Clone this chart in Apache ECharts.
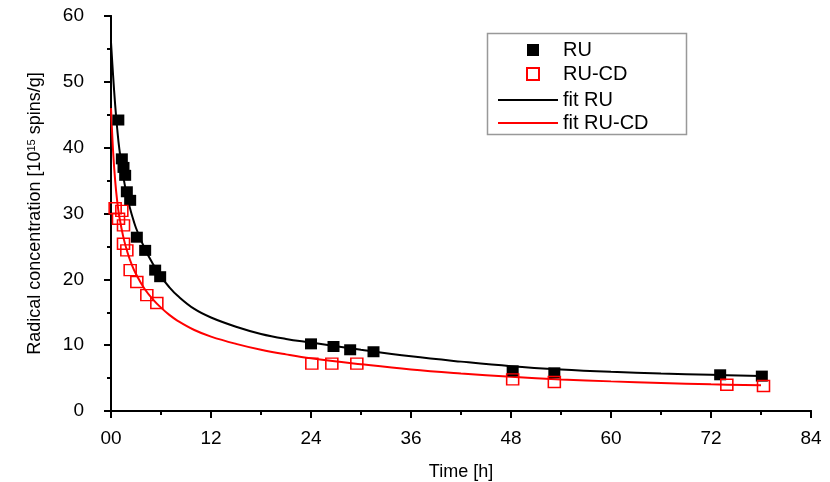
<!DOCTYPE html>
<html>
<head>
<meta charset="utf-8">
<script src="https://cdn.jsdelivr.net/npm/echarts@6/dist/echarts.min.js"></script>
<style>
html,body{margin:0;padding:0;background:#fff;}
#chart{width:830px;height:482px;}
</style>
</head>
<body>
<div id="chart"></div>
<script>
// Measured data (time [h], radical concentration [1e15 spins/g])
var ruTime = [0.88, 1.3, 1.5, 1.7, 1.9, 2.3, 3.1, 4.1, 5.3, 5.9, 24.0, 26.7, 28.7, 31.5, 48.2, 53.2, 73.1, 78.1];
var ruValue = [44.2, 38.3, 37.0, 35.8, 33.3, 32.0, 26.4, 24.4, 21.4, 20.4, 10.2, 9.8, 9.3, 9.0, 6.1, 5.8, 5.5, 5.3];

var rucdTime = [0.5, 1.3, 0.9, 1.5, 1.5, 1.9, 2.3, 3.1, 4.3, 5.5, 24.1, 26.5, 29.5, 48.2, 53.2, 73.9, 78.3];
var rucdValue = [30.8, 30.4, 29.2, 28.2, 25.4, 24.4, 21.4, 19.6, 17.6, 16.4, 7.2, 7.2, 7.2, 4.8, 4.4, 4.0, 3.8];

// Fit curves
var fitTime = [0, 0.25, 0.5, 0.75, 1, 1.5, 2, 2.5, 3, 4, 5, 6, 7, 8, 10, 12, 15, 18, 21, 24, 30, 36, 42, 48, 54, 60, 66, 72, 78];
var fitRU = [56, 51, 46.5, 42.8, 39.8, 35.4, 32.2, 29.8, 27.8, 24.8, 22.4, 20.4, 18.8, 17.5, 15.5, 14.2, 12.8, 11.7, 10.95, 10.4, 9.3, 8.3, 7.5, 6.8, 6.3, 5.95, 5.7, 5.5, 5.3];
var fitRUCD = [46, 39.5, 35, 31.8, 29.5, 26.3, 24, 22.2, 20.8, 18.6, 17.0, 15.7, 14.6, 13.7, 12.3, 11.3, 10.2, 9.3, 8.6, 8.0, 7.1, 6.3, 5.7, 5.2, 4.8, 4.5, 4.25, 4.05, 3.9];

var xTicks = [0, 12, 24, 36, 48, 60, 72, 84];
var yTicks = [0, 10, 20, 30, 40, 50, 60];

function zip(a, b) { return a.map(function (v, i) { return [v, b[i]]; }); }

var chart = echarts.init(document.getElementById('chart'), null, {renderer: 'canvas'});
var FONT = 'Liberation Sans, Arial, sans-serif';
var axisLineStyle = {color: '#000', width: 2};

var option = {
  backgroundColor: '#fff',
  animation: false,
  grid: {left: 111, right: 19, top: 16, bottom: 71, containLabel: false, outerBoundsMode: 'none'},
  xAxis: [{
    type: 'value', min: xTicks[0], max: xTicks[xTicks.length - 1], interval: 12,
    position: 'bottom',
    name: 'Time [h]', nameLocation: 'middle', nameGap: 52,
    nameTextStyle: {fontFamily: FONT, fontSize: 18, color: '#000'},
    axisLine: {lineStyle: axisLineStyle},
    axisTick: {show: true, inside: false, length: 7, lineStyle: {color: '#000', width: 2}},
    minorTick: {show: true, splitNumber: 2, length: 4, lineStyle: {color: '#000', width: 2}},
    splitLine: {show: false},
    axisLabel: {fontFamily: FONT, fontSize: 19, color: '#000', margin: 18,
      formatter: function (v) { return v === 0 ? '00' : String(v); }}
  }, {
    type: 'value', min: 0, max: 84, interval: 12, position: 'top',
    axisLine: {show: true, lineStyle: axisLineStyle},
    axisTick: {show: true, inside: true, length: 7, lineStyle: {color: '#000', width: 2}},
    minorTick: {show: true, splitNumber: 2, length: 4, lineStyle: {color: '#000', width: 2}},
    axisLabel: {show: false}, splitLine: {show: false}
  }],
  yAxis: [{
    type: 'value', min: yTicks[0], max: yTicks[yTicks.length - 1], interval: 10,
    position: 'left',
    name: '{a|Radical concentration [10}{s|15}{a| spins/g]}',
    nameLocation: 'middle', nameGap: 66, nameRotate: 90,
    nameTextStyle: {fontFamily: FONT, fontSize: 18, color: '#000',
      rich: {
        a: {fontFamily: FONT, fontSize: 18, color: '#000'},
        s: {fontFamily: FONT, fontSize: 11, color: '#000', verticalAlign: 'top', padding: [0, 0, 8, 0]}
      }},
    axisLine: {show: true, lineStyle: axisLineStyle},
    axisTick: {show: true, inside: false, length: 7, lineStyle: {color: '#000', width: 2}},
    minorTick: {show: true, splitNumber: 2, length: 4, lineStyle: {color: '#000', width: 2}},
    splitLine: {show: false},
    axisLabel: {fontFamily: FONT, fontSize: 19, color: '#000', margin: 27}
  }, {
    type: 'value', min: 0, max: 60, interval: 10, position: 'right',
    axisLine: {show: true, lineStyle: axisLineStyle},
    axisTick: {show: true, inside: true, length: 7, lineStyle: {color: '#000', width: 2}},
    minorTick: {show: true, splitNumber: 2, length: 4, lineStyle: {color: '#000', width: 2}},
    axisLabel: {show: false}, splitLine: {show: false}
  }],
  legend: [{
    orient: 'vertical', left: 521, top: 35, itemWidth: 12, itemHeight: 12, itemGap: 4,
    data: ['RU', 'RU-CD'],
    textStyle: {fontFamily: FONT, fontSize: 20, color: '#000', lineHeight: 20, padding: [0, 0, 0, 19]}
  }, {
    orient: 'vertical', left: 493, top: 85, itemWidth: 60, itemHeight: 2, itemGap: 3,
    data: [{name: 'fit RU', icon: 'rect'}, {name: 'fit RU-CD', icon: 'rect'}],
    textStyle: {fontFamily: FONT, fontSize: 20, color: '#000', lineHeight: 20}
  }],
  graphic: [{
    type: 'rect', left: 485, top: 31, z: 10, silent: true,
    shape: {width: 199, height: 101},
    style: {fill: 'none', stroke: '#999', lineWidth: 1.5}
  }],
  series: [{
    name: 'fit RU', type: 'line', smooth: 0.4, symbol: 'none',
    data: zip(fitTime, fitRU),
    itemStyle: {color: '#000'},
    lineStyle: {color: '#000', width: 2}, z: 2
  }, {
    name: 'fit RU-CD', type: 'line', smooth: 0.4, symbol: 'none',
    data: zip(fitTime, fitRUCD),
    itemStyle: {color: '#ff0000'},
    lineStyle: {color: '#ff0000', width: 2}, z: 2
  }, {
    name: 'RU', type: 'scatter', symbol: 'rect', symbolSize: [12, 11],
    data: zip(ruTime, ruValue),
    itemStyle: {color: '#000', opacity: 1}, z: 3
  }, {
    name: 'RU-CD', type: 'scatter', symbol: 'rect', symbolSize: [12, 11],
    data: zip(rucdTime, rucdValue),
    itemStyle: {color: 'rgba(255,255,255,0)', borderColor: '#ff0000', borderWidth: 1.5, opacity: 1}, z: 3
  }]
};
chart.setOption(option);
</script>
</body>
</html>
